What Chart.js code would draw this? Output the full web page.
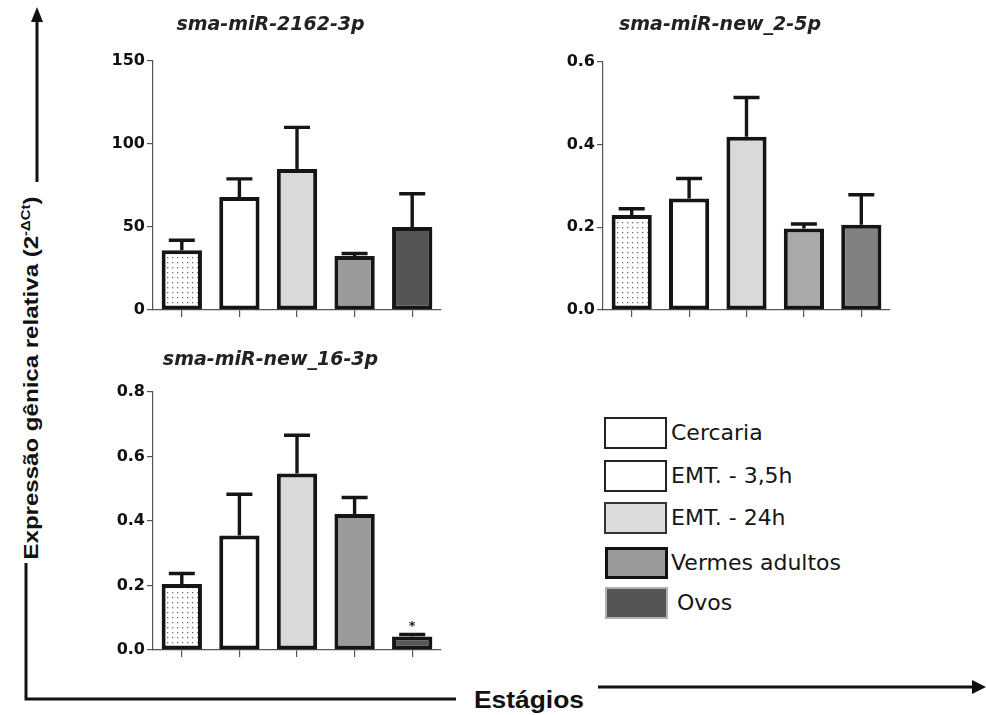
<!DOCTYPE html>
<html>
<head>
<meta charset="utf-8">
<script src="https://cdn.jsdelivr.net/npm/chart.js@4.4.1/dist/chart.umd.min.js"></script>
<style>
    body { margin: 0; background: #fff; width: 986px; height: 715px; overflow: hidden; position: relative; font-family: 'Liberation Sans', Arial, sans-serif; }
    .panel { position: absolute; }
    #frame { position: absolute; left: 0; top: 0; }
    .lg-box { position: absolute; width: 63px; height: 32px; box-sizing: border-box; }
    .lg-text { position: absolute; font-family: 'DejaVu Sans', sans-serif; font-size: 22px; color: #151515; line-height: 32px; white-space: nowrap; }
</style>
</head>
<body>

<svg id="frame" width="986" height="715">
    <line x1="37" y1="20" x2="37" y2="182" stroke="#111" stroke-width="3"/>
    <polygon points="37,7 31,22 43,22" fill="#111"/>
    <text transform="translate(38,378) rotate(-90)" text-anchor="middle" font-family="Liberation Sans, Arial" font-size="21" font-weight="bold" fill="#111" textLength="363" lengthAdjust="spacingAndGlyphs">Expressão gênica relativa (2<tspan font-size="13" dy="-8">-ΔCt</tspan><tspan dy="8">)</tspan></text>
    <polyline points="26,563 26,699 456,699" fill="none" stroke="#111" stroke-width="3"/>
    <text x="474" y="708" font-family="Liberation Sans, Arial" font-size="23" font-weight="bold" fill="#111" textLength="110" lengthAdjust="spacingAndGlyphs">Estágios</text>
    <line x1="598" y1="687" x2="974" y2="687" stroke="#111" stroke-width="3"/>
    <polygon points="986,687 972,680 972,694" fill="#111"/>
</svg>

<div class="panel" style="left:100px;top:0px"><canvas id="c1" width="350" height="330"></canvas></div>
<div class="panel" style="left:550px;top:0px"><canvas id="c2" width="350" height="330"></canvas></div>
<div class="panel" style="left:100px;top:340px"><canvas id="c3" width="350" height="330"></canvas></div>
<div id="legend"></div>

<script>
// estágios do ciclo de vida
const stages = ['Cercaria', 'EMT. - 3,5h', 'EMT. - 24h', 'Vermes adultos', 'Ovos'];

// sma-miR-2162-3p
const mir2162 = [36, 68, 85, 32.5, 50];
const mir2162Sem = [6, 11, 25, 1.5, 20];
const mir2162Ticks = [0, 50, 100, 150];

// sma-miR-new_2-5p
const mirNew2 = [0.23, 0.27, 0.419, 0.197, 0.206];
const mirNew2Sem = [0.015, 0.048, 0.095, 0.011, 0.073];
const mirNew2Ticks = [0, 0.2, 0.4, 0.6];

// sma-miR-new_16-3p
const mirNew16 = [0.205, 0.355, 0.547, 0.422, 0.042];
const mirNew16Sem = [0.032, 0.128, 0.119, 0.051, 0.006];
const mirNew16Sig = ['', '', '', '', '*'];
const mirNew16Ticks = [0, 0.2, 0.4, 0.6, 0.8];

const titles = ['sma-miR-2162-3p', 'sma-miR-new_2-5p', 'sma-miR-new_16-3p'];

// padrão pontilhado da cercária
function dotPattern() {
    const c = document.createElement('canvas');
    c.width = 5; c.height = 5;
    const g = c.getContext('2d');
    g.fillStyle = '#ffffff';
    g.fillRect(0, 0, 5, 5);
    g.fillStyle = '#707070';
    g.fillRect(2, 2, 1.3, 1.3);
    return g.createPattern(c, 'repeat');
}

// barras de erro (só a parte de cima) + asterisco
const errorBars = {
    id: 'errorBars',
    afterDatasetsDraw(chart) {
        const ctx = chart.ctx;
        const y = chart.scales.y;
        const ds = chart.data.datasets[0];
        const meta = chart.getDatasetMeta(0);
        ctx.save();
        ctx.strokeStyle = '#151515';
        ctx.lineWidth = 3.4;
        meta.data.forEach((bar, i) => {
            const top = y.getPixelForValue(ds.data[i] + ds.sem[i]);
            ctx.beginPath();
            ctx.moveTo(bar.x, bar.y);
            ctx.lineTo(bar.x, top);
            ctx.moveTo(bar.x - 13, top);
            ctx.lineTo(bar.x + 13, top);
            ctx.stroke();
            if (ds.sig && ds.sig[i]) {
                ctx.fillStyle = '#222';
                ctx.font = 'bold 13px "DejaVu Sans"';
                ctx.textAlign = 'center';
                ctx.fillText(ds.sig[i], bar.x, top - 5);
            }
        });
        ctx.restore();
    }
};

function makePanel(id, title, values, sem, ticks, colors, titlePad, right, sig) {
    const ctx = document.getElementById(id).getContext('2d');
    const max = ticks[ticks.length - 1];
    const decimals = max < 1 ? 1 : 0;
    return new Chart(ctx, {
        type: 'bar',
        data: {
            labels: stages,
            datasets: [{
                data: values,
                sem: sem,
                sig: sig,
                backgroundColor: colors,
                borderColor: '#151515',
                borderWidth: 4,
                borderSkipped: false,
                categoryPercentage: 1,
                barPercentage: 0.7
            }]
        },
        options: {
            responsive: false,
            animation: false,
            layout: { padding: { top: 0, right: right, bottom: 0, left: 0 } },
            plugins: {
                legend: { display: false },
                tooltip: { enabled: false },
                title: {
                    display: true,
                    text: title,
                    color: '#222',
                    font: { family: 'DejaVu Sans', size: 19, weight: 'bold', style: 'italic', lineHeight: 1.2 },
                    padding: titlePad
                }
            },
            scales: {
                x: {
                    ticks: { display: false },
                    grid: { offset: false, drawOnChartArea: false, tickLength: 7, color: '#555', lineWidth: 1.2 },
                    border: { color: '#555', width: 1.2 },
                    afterFit(s) { s.height = 20; }
                },
                y: {
                    min: 0,
                    max: max,
                    afterBuildTicks(s) { s.ticks = ticks.map(v => ({ value: v })); },
                    ticks: {
                        color: '#111',
                        padding: 2,
                        font: { family: 'DejaVu Sans', size: 16, weight: 'bold' },
                        callback: v => v.toFixed(decimals)
                    },
                    grid: { drawOnChartArea: false, tickLength: 6, color: '#555', lineWidth: 1.2 },
                    border: { color: '#555', width: 1.2 },
                    afterFit(s) { s.width = 53; }
                }
            }
        },
        plugins: [errorBars]
    });
}

const dots = dotPattern();
makePanel('c1', titles[0], mir2162, mir2162Sem, mir2162Ticks,
    [dots, '#ffffff', '#d9d9d9', '#9a9a9a', '#555555'], { top: 13.6, bottom: 24.6 }, 9);
makePanel('c2', titles[1], mirNew2, mirNew2Sem, mirNew2Ticks,
    [dots, '#ffffff', '#d9d9d9', '#a9a9a9', '#808080'], { top: 13.6, bottom: 25.6 }, 10);
makePanel('c3', titles[2], mirNew16, mirNew16Sem, mirNew16Ticks,
    [dots, '#ffffff', '#d9d9d9', '#9a9a9a', '#555555'], { top: 8.6, bottom: 20.6 }, 9, mirNew16Sig);

// legenda montada à mão
const legendFill = ['#ffffff', '#ffffff', '#dcdcdc', '#999999', '#555555'];
const legendBorder = ['#222', '#222', '#333', '#111', '#b0b0b0'];
const legendTop = [417, 460, 502, 547, 587];
const legend = document.getElementById('legend');
stages.forEach((s, i) => {
    const box = document.createElement('div');
    box.className = 'lg-box';
    box.style.left = (i >= 3 ? 605 : 604) + 'px';
    box.style.top = legendTop[i] + 'px';
    box.style.background = legendFill[i];
    box.style.border = (i === 3 ? 3 : 2) + 'px solid ' + legendBorder[i];
    legend.appendChild(box);
    const txt = document.createElement('div');
    txt.className = 'lg-text';
    txt.style.left = (i === 4 ? 677 : 671) + 'px';
    txt.style.top = legendTop[i] + 'px';
    txt.textContent = s;
    legend.appendChild(txt);
});
</script>
</body>
</html>
